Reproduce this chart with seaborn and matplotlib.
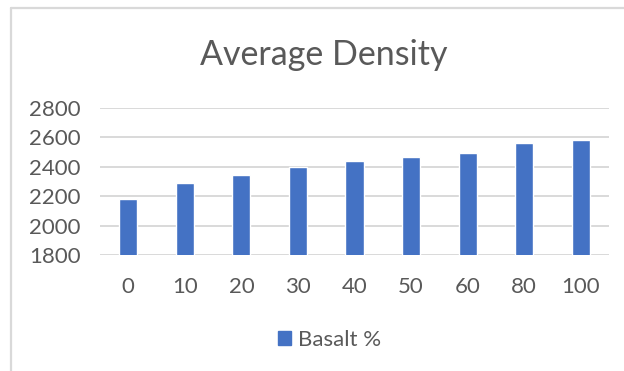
import matplotlib
matplotlib.use("Agg")
import matplotlib.pyplot as plt
from matplotlib.lines import Line2D
import pandas as pd
import seaborn as sns

# Basalt content (%) and the measured average density for each mix
basalt_pct = ["0", "10", "20", "30", "40", "50", "60", "80", "100"]
avg_density = [2178, 2290, 2343, 2396, 2441, 2468, 2494, 2563, 2580]
y_ticks = [1800, 2000, 2200, 2400, 2600, 2800]

df = pd.DataFrame({"basalt": basalt_pct, "density": avg_density})

sns.set_theme(style="white")
plt.rcParams["font.family"] = ["Lato", "DejaVu Sans"]

TEXT = "#595959"
GRID = "#d9d9d9"
BAR = "#4472c4"

W, H = 624, 371
fig = plt.figure(figsize=(W / 100, H / 100), dpi=100)
fig.patch.set_facecolor("white")

# plot area in pixel terms
left, right, top, bottom = 100, 609, 108, 255
ax = fig.add_axes([left / W, 1 - bottom / H, (right - left) / W, (bottom - top) / H])

sns.barplot(data=df, x="basalt", y="density", color=BAR, width=0.32,
            saturation=1, ax=ax, label="Basalt %", legend=False)

ax.set_ylim(1800, 2800)
ax.set_yticks(y_ticks)
ax.set_xlim(-0.5, len(basalt_pct) - 0.5)
ax.set_xlabel("")
ax.set_ylabel("")
ax.yaxis.grid(True, color=GRID, linewidth=1.4)
ax.set_axisbelow(True)
for s in ax.spines.values():
    s.set_visible(False)
ax.tick_params(axis="both", length=0, labelsize=16, labelcolor=TEXT)
ax.tick_params(axis="x", pad=16)
ax.tick_params(axis="y", pad=14)

# chart title
fig.text(324 / W, 1 - 65 / H, "Average Density", ha="center", va="baseline",
         fontsize=24.5, color=TEXT)

# legend below the plot
handle = plt.Rectangle((0, 0), 1, 1, facecolor=BAR, edgecolor=BAR)
fig.legend([handle], ["Basalt %"], loc="center",
           bbox_to_anchor=(330 / W, 1 - 340 / H), frameon=False,
           fontsize=16, labelcolor=TEXT, handlelength=0.55, handleheight=0.6,
           handletextpad=0.35)

# chart frame (left and top edges)
fig.add_artist(Line2D([11 / W, 11 / W], [0, 1 - 8 / H], color=GRID, linewidth=1.6,
                      transform=fig.transFigure))
fig.add_artist(Line2D([11 / W, 1], [1 - 8 / H, 1 - 8 / H], color=GRID, linewidth=1.6,
                      transform=fig.transFigure))

fig.savefig("out.png", dpi=100)
